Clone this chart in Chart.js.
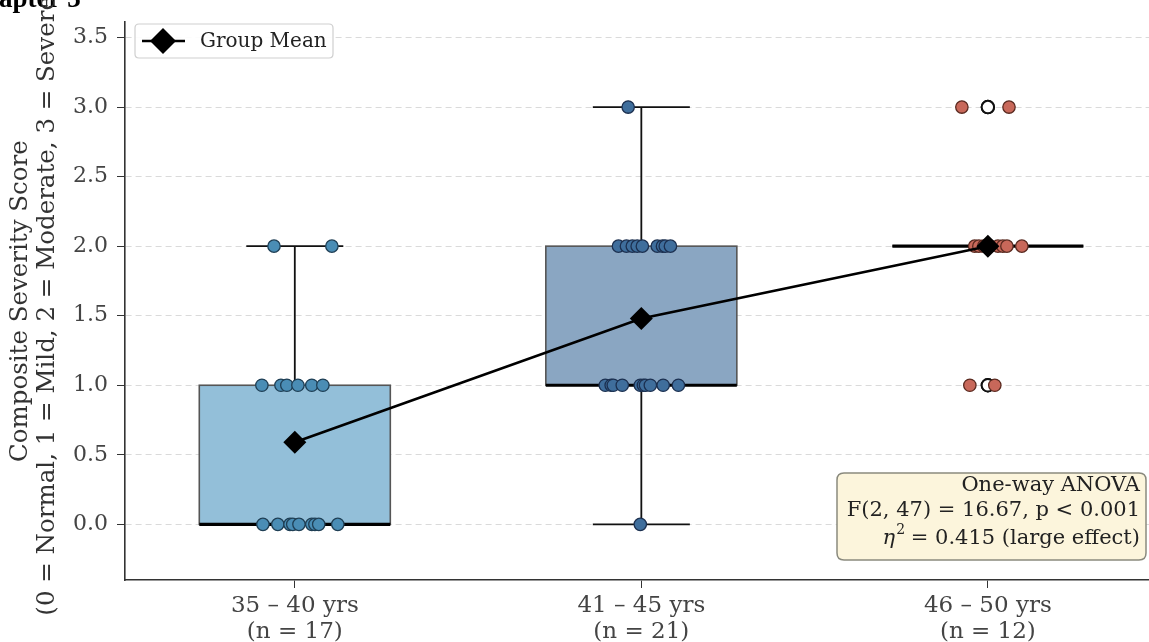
<!DOCTYPE html>
<html>
<head>
<meta charset="utf-8">
<script src="https://cdn.jsdelivr.net/npm/chart.js@4.4.1/dist/chart.umd.min.js"></script>
<style>
  body { margin: 0; background: #fff; }
  #wrap { width: 1149px; height: 642px; position: relative; }
</style>
</head>
<body>
<div id="wrap"><canvas id="grafico"></canvas></div>
<script>
// categories / tick labels
const groupLabels = [["35 – 40 yrs", "(n = 17)"], ["41 – 45 yrs", "(n = 21)"], ["46 – 50 yrs", "(n = 12)"]];
const yTicks = [0, 0.5, 1, 1.5, 2, 2.5, 3, 3.5];

// box plot stats per group
const boxQ1 = [0, 1, 2];
const boxMedian = [0, 1, 2];
const boxQ3 = [1, 2, 2];
const whiskerLow = [0, 0, 2];
const whiskerHigh = [2, 3, 2];
const groupMeans = [0.59, 1.48, 2.0];

// individual scores (strip plot) and their horizontal jitter
const scores1 = [2, 2, 1, 1, 1, 1, 1, 1, 0, 0, 0, 0, 0, 0, 0, 0, 0];
const jitter1 = [-0.06, 0.107, -0.095, -0.04, -0.023, 0.009, 0.049, 0.081, -0.092, -0.049, -0.014, -0.006, 0.012, 0.049, 0.058, 0.069, 0.124];
const scores2 = [3, 2, 2, 2, 2, 2, 2, 2, 2, 2, 1, 1, 1, 1, 1, 1, 1, 1, 1, 1, 0];
const jitter2 = [-0.038, -0.066, -0.043, -0.026, -0.012, 0.003, 0.046, 0.061, 0.069, 0.084, -0.104, -0.087, -0.081, -0.055, -0.003, 0.006, 0.012, 0.026, 0.063, 0.107, -0.003];
const scores3 = [3, 3, 2, 2, 2, 2, 2, 2, 2, 2, 1, 1];
const jitter3 = [-0.075, 0.061, -0.038, -0.026, -0.012, 0.006, 0.029, 0.043, 0.055, 0.098, -0.052, 0.02];

// outliers of group 3 (IQR = 0)
const fliers3 = [3, 3, 1, 1];

const boxFill = ["#93bfd9", "#8aa6c2", "#c9d6e3"];
const pointFill = ["#4a8db5", "#3f6e9c", "#c8685a"];
const pointEdge = ["#1f3f55", "#1c3050", "#5a2a20"];

const serif = "'DejaVu Serif', serif";

function stripPoints(scores, jitter, pos) {
  return scores.map((s, i) => ({ x: pos + jitter[i], y: s }));
}

const boxPlugin = {
  id: "boxes",
  beforeDatasetsDraw(chart) {
    const ctx = chart.ctx;
    const xs = chart.scales.x;
    const ys = chart.scales.y;
    const halfBox = 0.2756;
    const halfCap = 0.14;
    ctx.save();
    for (let i = 0; i < boxQ1.length; i++) {
      const xc = xs.getPixelForValue(i);
      const xl = xs.getPixelForValue(i - halfBox);
      const xr = xs.getPixelForValue(i + halfBox);
      const cl = xs.getPixelForValue(i - halfCap);
      const cr = xs.getPixelForValue(i + halfCap);
      const yq1 = ys.getPixelForValue(boxQ1[i]);
      const yq3 = ys.getPixelForValue(boxQ3[i]);

      // whiskers
      ctx.strokeStyle = "#111";
      ctx.lineWidth = 1.8;
      ctx.beginPath();
      ctx.moveTo(xc, yq1);
      ctx.lineTo(xc, ys.getPixelForValue(whiskerLow[i]));
      ctx.moveTo(xc, yq3);
      ctx.lineTo(xc, ys.getPixelForValue(whiskerHigh[i]));
      ctx.moveTo(cl, ys.getPixelForValue(whiskerLow[i]));
      ctx.lineTo(cr, ys.getPixelForValue(whiskerLow[i]));
      ctx.moveTo(cl, ys.getPixelForValue(whiskerHigh[i]));
      ctx.lineTo(cr, ys.getPixelForValue(whiskerHigh[i]));
      ctx.stroke();

      // box
      ctx.fillStyle = boxFill[i];
      ctx.fillRect(xl, yq3, xr - xl, yq1 - yq3);
      ctx.strokeStyle = "#555";
      ctx.lineWidth = 1.6;
      ctx.strokeRect(xl, yq3, xr - xl, yq1 - yq3);

      // median
      const ym = ys.getPixelForValue(boxMedian[i]);
      ctx.strokeStyle = "#000";
      ctx.lineWidth = 3.2;
      ctx.beginPath();
      ctx.moveTo(xl, ym);
      ctx.lineTo(xr, ym);
      ctx.stroke();
    }
    ctx.restore();
  },
  afterDraw(chart) {
    const ctx = chart.ctx;
    const area = chart.chartArea;
    ctx.save();

    // text cut from the page above
    ctx.fillStyle = "#000";
    ctx.font = "bold 27px 'Liberation Serif', serif";
    ctx.textAlign = "left";
    ctx.textBaseline = "alphabetic";
    ctx.fillText("apter 3", -1, 7);

    // y axis title (two lines, rotated)
    const yMid = (area.top + area.bottom) / 2;
    ctx.fillStyle = "#333";
    ctx.font = "24.5px " + serif;
    ctx.textAlign = "center";
    ctx.textBaseline = "middle";
    ctx.save();
    ctx.translate(21, yMid);
    ctx.rotate(-Math.PI / 2);
    ctx.fillText("Composite Severity Score", 0, 0);
    ctx.restore();
    ctx.save();
    ctx.translate(48, yMid);
    ctx.rotate(-Math.PI / 2);
    ctx.fillText("(0 = Normal, 1 = Mild, 2 = Moderate, 3 = Severe)", 0, 0);
    ctx.restore();

    // legend
    roundRect(ctx, 135, 24, 198, 34, 4);
    ctx.fillStyle = "rgba(255,255,255,0.9)";
    ctx.fill();
    ctx.strokeStyle = "#cfcfcf";
    ctx.lineWidth = 1.2;
    ctx.stroke();
    ctx.strokeStyle = "#000";
    ctx.lineWidth = 2.5;
    ctx.beginPath();
    ctx.moveTo(142, 41);
    ctx.lineTo(185, 41);
    ctx.stroke();
    ctx.fillStyle = "#000";
    ctx.beginPath();
    ctx.moveTo(163, 28);
    ctx.lineTo(176, 41);
    ctx.lineTo(163, 54);
    ctx.lineTo(150, 41);
    ctx.closePath();
    ctx.fill();
    ctx.fillStyle = "#222";
    ctx.font = "20px " + serif;
    ctx.textAlign = "left";
    ctx.textBaseline = "middle";
    ctx.fillText("Group Mean", 200, 42);

    // ANOVA box
    roundRect(ctx, 837, 473, 309, 87, 7);
    ctx.fillStyle = "#fcf5dc";
    ctx.fill();
    ctx.strokeStyle = "#8a8a7e";
    ctx.lineWidth = 1.5;
    ctx.stroke();
    ctx.fillStyle = "#222";
    ctx.font = "21px " + serif;
    ctx.textAlign = "right";
    ctx.textBaseline = "middle";
    const rx = 1140;
    ctx.fillText("One-way ANOVA", rx, 486);
    ctx.fillText("F(2, 47) = 16.67, p < 0.001", rx, 511);
    const rest = " = 0.415 (large effect)";
    const restW = ctx.measureText(rest).width;
    ctx.font = "14px " + serif;
    const supW = ctx.measureText("2").width;
    ctx.font = "italic 21px " + serif;
    const etaW = ctx.measureText("η").width;
    let x0 = rx - restW - supW - etaW;
    ctx.textAlign = "left";
    ctx.fillText("η", x0, 539);
    ctx.font = "14px " + serif;
    ctx.fillText("2", x0 + etaW + 1, 530);
    ctx.font = "21px " + serif;
    ctx.fillText(rest, x0 + etaW + supW, 539);

    ctx.restore();
  }
};

function roundRect(ctx, x, y, w, h, r) {
  ctx.beginPath();
  ctx.moveTo(x + r, y);
  ctx.lineTo(x + w - r, y);
  ctx.quadraticCurveTo(x + w, y, x + w, y + r);
  ctx.lineTo(x + w, y + h - r);
  ctx.quadraticCurveTo(x + w, y + h, x + w - r, y + h);
  ctx.lineTo(x + r, y + h);
  ctx.quadraticCurveTo(x, y + h, x, y + h - r);
  ctx.lineTo(x, y + r);
  ctx.quadraticCurveTo(x, y, x + r, y);
  ctx.closePath();
}

function stripDataset(scores, jitter, pos) {
  return {
    type: "scatter",
    data: stripPoints(scores, jitter, pos),
    pointRadius: 6.2,
    pointBackgroundColor: pointFill[pos],
    pointBorderColor: pointEdge[pos],
    pointBorderWidth: 1.3,
  };
}

const config = {
  type: "scatter",
  data: {
    datasets: [
      {
        type: "line",
        data: groupMeans.map((m, i) => ({ x: i, y: m })),
        borderColor: "#000",
        borderWidth: 2.6,
        pointStyle: "rectRot",
        pointRadius: 11.5,
        pointBackgroundColor: "#000",
        pointBorderColor: "#000",
        pointBorderWidth: 0,
        showLine: true,
        tension: 0,
      },
      stripDataset(scores1, jitter1, 0),
      stripDataset(scores2, jitter2, 1),
      stripDataset(scores3, jitter3, 2),
      {
        type: "scatter",
        data: fliers3.map((v) => ({ x: 2, y: v })),
        pointRadius: 6.2,
        pointBackgroundColor: "#fff",
        pointBorderColor: "#111",
        pointBorderWidth: 2,
      },
    ],
  },
  options: {
    responsive: true,
    maintainAspectRatio: false,
    animation: false,
    layout: { autoPadding: false, padding: { top: 13, left: 0, right: 0, bottom: 0 } },
    plugins: { legend: { display: false }, tooltip: { enabled: false } },
    scales: {
      x: {
        type: "linear",
        min: -0.49,
        max: 2.465,
        afterBuildTicks: (s) => { s.ticks = groupLabels.map((l, i) => ({ value: i })); },
        afterFit: (s) => { s.height = 62; },
        ticks: {
          callback: (v) => groupLabels[v],
          font: { family: serif, size: 23, lineHeight: 1.12 },
          color: "#444",
          padding: 5,
          maxRotation: 0,
        },
        grid: { display: true, drawOnChartArea: false, tickLength: 8, tickColor: "#333", tickWidth: 1 },
        border: { color: "#333", width: 1.6 },
      },
      y: {
        min: -0.4,
        max: 3.61,
        afterBuildTicks: (s) => { s.ticks = yTicks.map((v) => ({ value: v })); },
        afterFit: (s) => { s.width = 125; },
        ticks: {
          callback: (v) => v.toFixed(1),
          font: { family: serif, size: 22 },
          color: "#444",
          padding: 9,
        },
        grid: { color: "#dadada", lineWidth: 1, tickLength: 8, tickColor: "#333", tickWidth: 1, tickBorderDash: [] },
        border: { color: "#333", width: 1.6, dash: [6, 4] },
      },
    },
  },
  plugins: [boxPlugin],
};

new Chart(document.getElementById("grafico"), config);
</script>
</body>
</html>
